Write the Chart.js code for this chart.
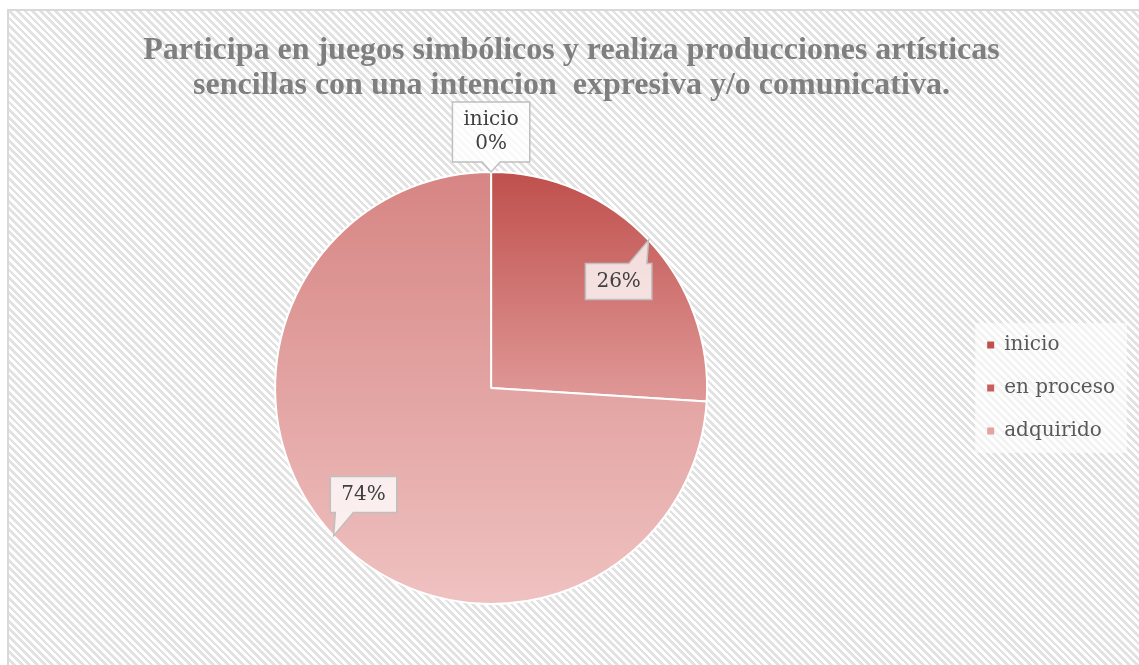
<!DOCTYPE html>
<html>
<head>
<meta charset="utf-8">
<script src="https://cdn.jsdelivr.net/npm/chart.js@4.4.1/dist/chart.umd.min.js"></script>
<style>
  html, body { margin: 0; padding: 0; background: #fff; overflow: hidden; }
  .frame {
    position: absolute; left: 7px; top: 9px; width: 1200px; height: 700px;
    border-left: 2px solid #d9d9d9; border-top: 2px solid #d9d9d9;
    background: repeating-linear-gradient(45deg, #ffffff 0px, #ffffff 2.7px, #e2e2e2 2.7px, #e2e2e2 5.4px);
  }
  .wrap { position: absolute; left: 0; top: 0; width: 1139px; height: 665px; }
</style>
</head>
<body>
<div class="frame"></div>
<div class="wrap"><canvas id="chart" width="1139" height="665"></canvas></div>
<script>
const titleLines = [
  'Participa en juegos simbólicos y realiza producciones artísticas',
  'sencillas con una intencion  expresiva y/o comunicativa.'
];
const categories = ['inicio', 'en proceso', 'adquirido'];
const percentages = [0, 26, 74];

// colours per slice (top -> bottom of the pie)
const sliceStops = [
  [[0, '#c0504d'], [1, '#c0504d']],
  [[0, '#bf4f4c'], [0.5, '#de9593'], [1, '#f2c8c7']],
  [[0, '#d68583'], [1, '#efc2c1']]
];
const legendColors = ['#c0504d', '#c95f5c', '#e3a3a2'];

function sliceFill(context) {
  const chart = context.chart;
  const area = chart.chartArea;
  const i = context.dataIndex;
  if (!area || i === undefined) return legendColors[i || 0];
  const cy = (area.top + area.bottom) / 2;
  const r = Math.min(area.width, area.height) / 2;
  const g = chart.ctx.createLinearGradient(0, cy - r, 0, cy + r);
  sliceStops[i].forEach(([o, c]) => g.addColorStop(o, c));
  return g;
}

const legendBackdrop = {
  id: 'legendBackdrop',
  beforeDraw(chart) {
    const boxes = chart.legend && chart.legend.legendHitBoxes;
    if (!boxes || !boxes.length) return;
    let l = Infinity, t = Infinity, r = -Infinity, b = -Infinity;
    boxes.forEach(h => {
      l = Math.min(l, h.left); t = Math.min(t, h.top);
      r = Math.max(r, h.left + h.width); b = Math.max(b, h.top + h.height);
    });
    const ctx = chart.ctx;
    ctx.save();
    ctx.fillStyle = 'rgba(255,255,255,0.6)';
    ctx.fillRect(l - 12, t - 12, r - l + 24, b - t + 24);
    ctx.restore();
  }
};

// Excel-like callout labels
const callouts = {
  id: 'callouts',
  afterDatasetsDraw(chart) {
    const ctx = chart.ctx;
    const meta = chart.getDatasetMeta(0);
    ctx.save();
    ctx.font = '20px "DejaVu Serif"';
    ctx.textAlign = 'center';
    ctx.textBaseline = 'middle';
    meta.data.forEach((arc, i) => {
      const p = arc.getProps(['x', 'y', 'startAngle', 'endAngle', 'outerRadius']);
      const mid = (p.startAngle + p.endAngle) / 2;
      const ax = p.x + Math.cos(mid) * p.outerRadius;
      const ay = p.y + Math.sin(mid) * p.outerRadius;
      const value = percentages[i];
      const lines = value === 0 ? [categories[i], value + '%'] : [value + '%'];
      const lh = 24;
      const w = Math.max(...lines.map(s => ctx.measureText(s).width)) + 22;
      const h = lines.length * lh + 12;
      let cx, cy;
      if (value === 0) {
        cx = ax + Math.cos(mid) * 40;
        cy = ay + Math.sin(mid) * 40;
      } else {
        const a = mid + Math.PI - 0.19;
        cx = ax + Math.cos(a) * 51;
        cy = ay + Math.sin(a) * 51;
      }
      const left = cx - w / 2, right = cx + w / 2, top = cy - h / 2, bottom = cy + h / 2;
      const base = Math.min(Math.max(ax, left + 14), right - 14);
      ctx.beginPath();
      ctx.moveTo(left, top);
      if (ay < top) { ctx.lineTo(base - 9, top); ctx.lineTo(ax, ay); ctx.lineTo(base + 9, top); }
      ctx.lineTo(right, top);
      ctx.lineTo(right, bottom);
      if (ay > bottom) { ctx.lineTo(base + 9, bottom); ctx.lineTo(ax, ay); ctx.lineTo(base - 9, bottom); }
      ctx.lineTo(left, bottom);
      ctx.closePath();
      ctx.fillStyle = 'rgba(255,255,255,0.78)';
      ctx.fill();
      ctx.strokeStyle = '#bfbfbf';
      ctx.lineWidth = 1.5;
      ctx.stroke();
      ctx.fillStyle = '#404040';
      lines.forEach((s, k) => {
        ctx.fillText(s, cx, top + 6 + lh / 2 + k * lh);
      });
    });
    ctx.restore();
  }
};

new Chart(document.getElementById('chart'), {
  type: 'pie',
  data: {
    labels: categories,
    datasets: [{
      data: percentages,
      backgroundColor: sliceFill,
      borderColor: '#ffffff',
      borderWidth: 2
    }]
  },
  options: {
    responsive: false,
    animation: false,
    layout: {
      padding: { top: 33, bottom: 60, left: 18, right: 14 }
    },
    plugins: {
      title: {
        display: true,
        text: titleLines,
        color: '#7f7f7f',
        font: { family: '"Liberation Serif", "Times New Roman", serif', size: 32, weight: 'bold', lineHeight: '35px' },
        padding: { top: 0, bottom: 68 }
      },
      legend: {
        position: 'right',
        fullSize: false,
        labels: {
          boxWidth: 7,
          boxHeight: 7,
          padding: 23,
          color: '#595959',
          font: { family: '"DejaVu Serif", serif', size: 20 },
          generateLabels: () => categories.map((c, i) => ({
            text: c,
            fillStyle: legendColors[i],
            strokeStyle: legendColors[i],
            lineWidth: 0,
            hidden: false,
            index: i,
            fontColor: '#595959'
          }))
        }
      },
      tooltip: { enabled: false }
    }
  },
  plugins: [legendBackdrop, callouts]
});
</script>
</body>
</html>
